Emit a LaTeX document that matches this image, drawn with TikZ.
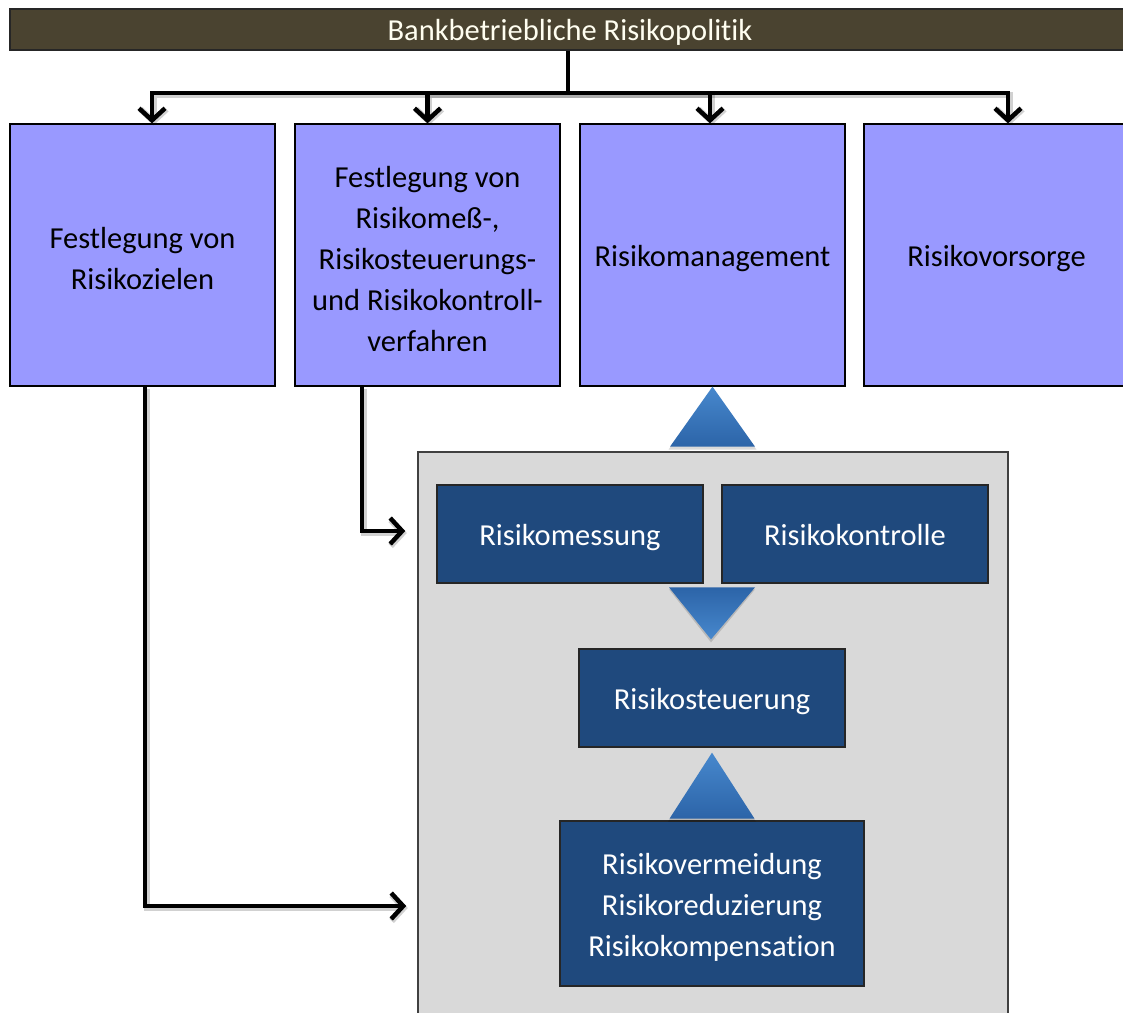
\documentclass[tikz,border=0pt]{standalone}
\usepackage{fontspec}
\setmainfont{Carlito}[Ligatures=NoCommon]
\usetikzlibrary{arrows.meta,calc}
\definecolor{barbrown}{HTML}{4A4330}
\definecolor{lilac}{HTML}{9999FF}
\definecolor{panelgrey}{HTML}{D9D9D9}
\definecolor{navy}{HTML}{1F497D}
\definecolor{tri light}{HTML}{4788CD}
\definecolor{tri dark}{HTML}{2C64A8}
\begin{document}
\begin{tikzpicture}[x=1pt,y=-1pt,
  txt/.style={font=\fontsize{30.5}{41}\selectfont, align=center, inner sep=0pt},
  oneline/.style={text height=30pt, text depth=7.4pt},
  headbar/.style={txt, oneline, draw=black!85, line width=1.5pt, fill=barbrown, text=white!94!yellow,
    minimum width=1120pt, minimum height=41pt},
  lightbox/.style={txt, draw=black, line width=1.3pt, fill=lilac,
    minimum width=265pt, minimum height=262pt},
  panel/.style={draw=black!75, line width=1.5pt, fill=panelgrey,
    minimum width=590pt, minimum height=568pt, inner sep=0pt},
  darkbox/.style={txt, draw=black!85, line width=1.3pt, fill=navy, text=white,
    minimum width=266pt, minimum height=98pt},
  link/.style={line width=4.5pt, black},
  conn/.style={link, -{Straight Barb[length=12pt,width=26pt]}},
  linkshadow/.style={line width=6pt, black, opacity=0.18, transform canvas={shift={(1.5pt,-2pt)}}},
  connshadow/.style={linkshadow, -{Straight Barb[length=12pt,width=26pt]}},
  triup/.style={top color=tri light, bottom color=tri dark},
  tridown/.style={top color=tri dark, bottom color=tri light},
  trishadow/.style={fill=black, opacity=0.15}
]
\useasboundingbox (0,0) rectangle (1123,1012);

% head bar
\node[headbar] (bar) at (570,29.5) {Bankbetriebliche Risikopolitik};

% four policy fields
\node[lightbox] (f1) at (142.5,255) {\strut Festlegung von\\Risikozielen};
\node[lightbox] (f2) at (427.5,255) {\strut Festlegung von\\Risikomeß-,\\Risikosteuerungs-\\und Risikokontroll-\\verfahren};
\node[lightbox, oneline] (f3) at (712.5,255) {Risikomanagement};
\node[lightbox, oneline] (f4) at (996.5,255) {Risikovorsorge};

% grey panel with the management cycle
\node[panel] (panel) at (713,736) {};
\node[darkbox, oneline] (mess) at (570,534) {Risikomessung};
\node[darkbox, oneline] (kontr) at (855,534) {Risikokontrolle};
\node[darkbox, oneline] (steu) at (712,698) {Risikosteuerung};
\node[darkbox, minimum width=304pt, minimum height=165pt] (mass) at (712,903.5)
  {\strut Risikovermeidung\\Risikoreduzierung\\Risikokompensation};

% distribution from the head bar
\coordinate (hub) at (568,93);
\coordinate (t1) at ([xshift=9.5pt]f1.north);
\coordinate (t2) at (f2.north);
\coordinate (t3) at ([xshift=-2.5pt]f3.north);
\coordinate (t4) at ([xshift=11.5pt]f4.north);
\foreach \t in {t1,t2,t3,t4}
  \draw[connshadow] (hub) -| (\t);
\draw[link] (bar.south -| hub) -- (hub);
\foreach \t in {t1,t2,t3,t4}
  \draw[conn] (hub) -| (\t);

% links into the panel
\coordinate (s2) at ([xshift=-65.5pt]f2.south);
\coordinate (e2) at ([xshift=-12pt,yshift=3pt]panel.west |- mess.west);
\coordinate (s1) at ([xshift=2.5pt]f1.south);
\coordinate (e1) at ([xshift=-11pt,yshift=-2.5pt]panel.west |- mass.west);
\draw[connshadow] (s2) |- (e2);
\draw[connshadow] (s1) |- (e1);
\draw[conn] (s2) |- (e2);
\draw[conn] (s1) |- (e1);

% block arrows
\fill[trishadow] ($(f3.south)+(0,2)$) -- ($(f3.south)+(44,63)$) -- ($(f3.south)+(-44,63)$) -- cycle;
\shade[triup] (f3.south) -- ($(f3.south)+(42.5,60)$) -- ($(f3.south)+(-42.5,60)$) -- cycle;
\fill[trishadow] ($(steu.north)+(-43,-59)$) -- ($(steu.north)+(43,-59)$) -- ($(steu.north)+(-1,-6)$) -- cycle;
\shade[tridown] ($(steu.north)+(-43,-61)$) -- ($(steu.north)+(43,-61)$) -- ($(steu.north)+(-1,-9)$) -- cycle;
\fill[trishadow] ($(steu.south)+(0,7)$) -- ($(steu.south)+(44,74)$) -- ($(steu.south)+(-44,74)$) -- cycle;
\shade[triup] ($(steu.south)+(0,5)$) -- ($(steu.south)+(42.5,71)$) -- ($(steu.south)+(-42.5,71)$) -- cycle;
\end{tikzpicture}
\end{document}
